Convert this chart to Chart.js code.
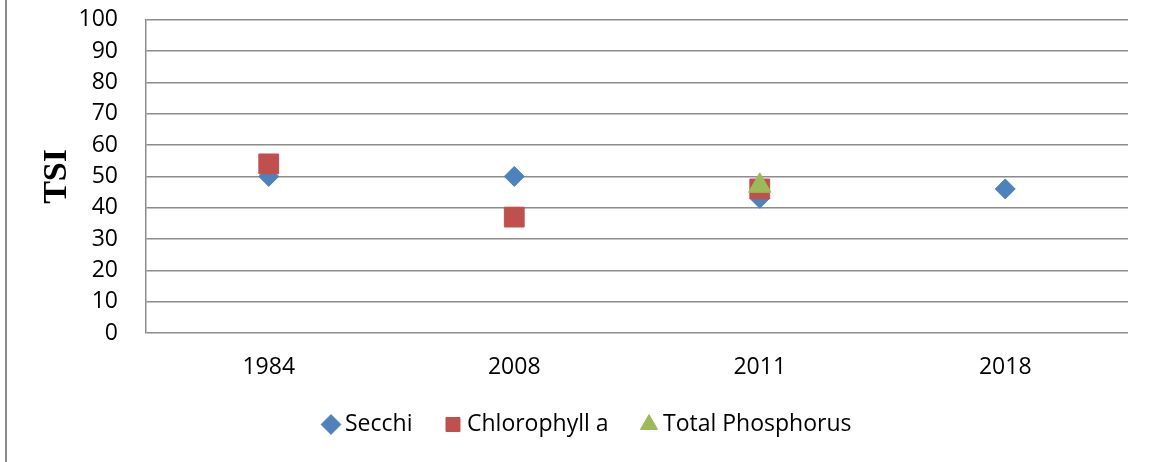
<!DOCTYPE html>
<html>
<head>
<meta charset="utf-8">
<script src="https://cdn.jsdelivr.net/npm/chart.js@4/dist/chart.umd.min.js"></script>
<style>
  html, body { margin: 0; padding: 0; background: #fff; }
  #wrap { position: relative; width: 1153px; height: 462px; }
  #frame { position: absolute; left: 5px; top: 0; width: 2px; height: 462px; background: #8a8a8a; }
</style>
</head>
<body>
<div id="wrap">
  <div id="frame"></div>
  <canvas id="myChart" width="1153" height="462"></canvas>
</div>
<script>
// dados
const anos = ['1984', '2008', '2011', '2018'];
const secchi = [50, 50, 43, 46];
const clorofila = [54, 37, 46, null];
const fosforo = [null, null, 47, null];
const ticksY = [0, 10, 20, 30, 40, 50, 60, 70, 80, 90, 100];

const fonte = { family: '"Open Sans", sans-serif', size: 23 };
const cinza = '#8c8c8c';

// ajusta a posicao da legenda pra ficar igual ao original
const moveLegenda = {
  id: 'moveLegenda',
  afterLayout(chart) {
    chart.legend.left += 21;
    chart.legend.right += 21;
    chart.legend.top -= 13;
    chart.legend.bottom -= 13;
  }
};

const ctx = document.getElementById('myChart');

const grafico = new Chart(ctx, {
  type: 'line',
  data: {
    labels: anos,
    datasets: [
      {
        label: 'Secchi',
        data: secchi,
        order: 3,
        showLine: false,
        pointStyle: 'rectRot',
        pointRadius: 10,
        backgroundColor: '#4F81BD',
        borderColor: '#4F81BD',
        borderWidth: 1
      },
      {
        label: 'Chlorophyll a',
        data: clorofila,
        order: 2,
        showLine: false,
        pointStyle: 'rect',
        pointRadius: 14,
        backgroundColor: '#C0504D',
        borderColor: '#C0504D',
        borderWidth: 1
      },
      {
        label: 'Total Phosphorus',
        data: fosforo,
        order: 1,
        showLine: false,
        pointStyle: 'triangle',
        pointRadius: 13,
        backgroundColor: '#9BBB59',
        borderColor: '#9BBB59',
        borderWidth: 1
      }
    ]
  },
  plugins: [moveLegenda],
  options: {
    responsive: false,
    animation: false,
    layout: { autoPadding: false, padding: { left: 10, right: 25, top: 0, bottom: 3 } },
    plugins: {
      tooltip: { enabled: false },
      legend: {
        position: 'bottom',
        labels: {
          usePointStyle: true,
          boxWidth: 5,
          boxHeight: 14,
          padding: 38,
          color: '#000',
          font: fonte,
          sort: (a, b) => a.datasetIndex - b.datasetIndex
        }
      }
    },
    scales: {
      x: {
        offset: true,
        grid: { display: false },
        border: { display: false },
        ticks: { color: '#000', font: fonte, padding: 13 },
        afterFit: function(s) { s.height = 55; }
      },
      y: {
        min: 0,
        max: 100,
        afterBuildTicks: function(s) { s.ticks = ticksY.map(v => ({ value: v })); },
        grid: { color: cinza, lineWidth: 1.5, drawTicks: true, tickLength: 22, tickColor: 'rgba(0,0,0,0)' },
        border: { color: cinza, width: 1.5 },
        ticks: { color: '#000', font: fonte, padding: 6, autoSkip: false },
        title: {
          display: true,
          text: 'TSI',
          color: '#000',
          font: { family: '"Liberation Serif", serif', size: 34, weight: 'bold' },
          padding: { top: 27, bottom: 0 }
        },
        afterFit: function(s) { s.width = 136; }
      }
    }
  }
});
</script>
</body>
</html>
